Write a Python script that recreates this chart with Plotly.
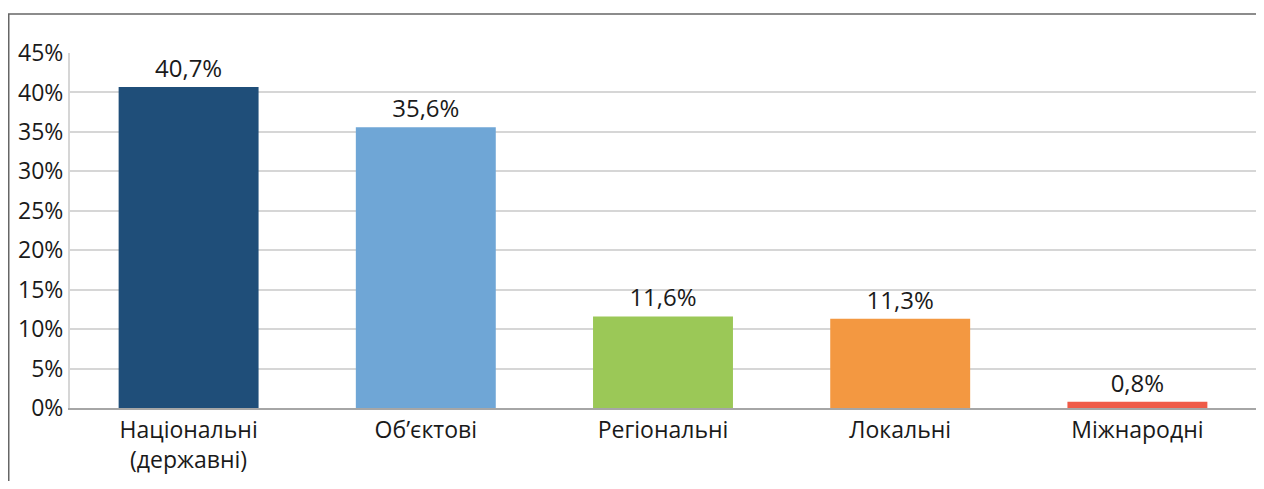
import plotly.graph_objects as go

categories = ["Національні<br>(державні)", "Об’єктові", "Регіональні", "Локальні", "Міжнародні"]
values = [40.7, 35.6, 11.6, 11.3, 0.8]
colors = ["#1f4e79", "#6fa6d6", "#9bc857", "#f39841", "#ef5b48"]
tick_vals = [0, 5, 10, 15, 20, 25, 30, 35, 40, 45]
tick_text = [f"{v}%" for v in tick_vals]

# page has an 8px body margin; keep the figure inside it so the page never scrolls
W, H = 1248, 473
ml, mr, mt, mb = 62, 0, 45, 73
pw, ph = W - ml - mr, H - mt - mb

def px_x(x):
    return (x - ml) / pw

def px_y(y):
    return (H - mb - y) / ph

FONT = "Open Sans"

fig = go.Figure(go.Bar(
    x=categories, y=values,
    marker=dict(color=colors, line=dict(width=0)),
    width=0.59,
    texttemplate="%{y:.1f}%", textposition="outside",
    textfont=dict(family=FONT, size=24, color="#1a1a1a"),
    cliponaxis=False,
))

fig.update_layout(
    width=W, height=H,
    margin=dict(l=ml, r=mr, t=mt, b=mb),
    paper_bgcolor="white", plot_bgcolor="white",
    separators=", ",
    showlegend=False,
    font=dict(family=FONT, size=22, color="#1a1a1a"),
    xaxis=dict(showgrid=False, showline=True, linecolor="#a6a6a6", linewidth=2,
               tickfont=dict(family=FONT, size=23, color="#1a1a1a"), ticks=""),
    yaxis=dict(range=[0, 45], tickmode="array", tickvals=tick_vals, ticktext=tick_text,
               showgrid=True, gridcolor="#d6d6d6", gridwidth=2,
               showline=True, linecolor="#d6d6d6", linewidth=2,
               zeroline=False, ticks="",
               tickfont=dict(family=FONT, size=23, color="#1a1a1a")),
    shapes=[
        dict(type="line", xref="paper", yref="paper",
             x0=px_x(0), x1=px_x(W), y0=px_y(6), y1=px_y(6),
             line=dict(color="#666666", width=1.5)),
        dict(type="line", xref="paper", yref="paper",
             x0=px_x(0.75), x1=px_x(0.75), y0=px_y(6), y1=px_y(H),
             line=dict(color="#666666", width=1.5)),
    ],
)

fig.write_html("out.html")
